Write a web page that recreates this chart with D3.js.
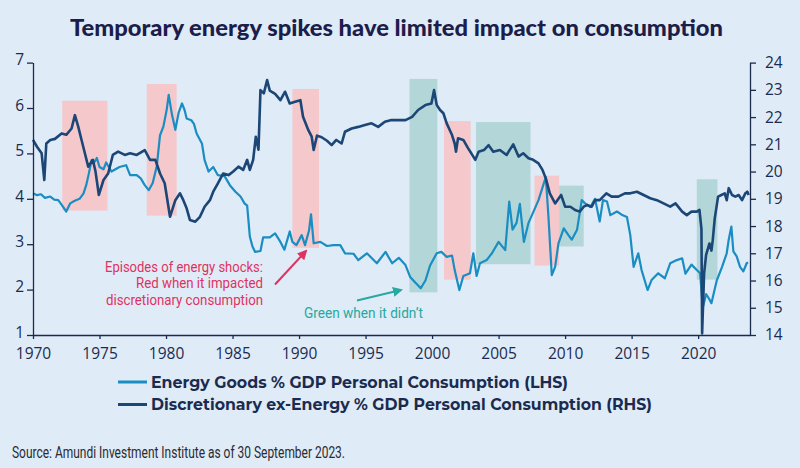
<!DOCTYPE html>
<html>
<head>
<meta charset="utf-8">
<script src="https://cdn.jsdelivr.net/npm/d3@7"></script>
<style>
html,body{margin:0;padding:0;background:#dfebf7;}
svg{display:block;}
</style>
</head>
<body>
<svg id="chart" width="800" height="468"></svg>
<script>
// ---------- DATA ----------
const energyYears = [1970.0,1970.3,1970.6,1970.9,1971.3,1971.6,1971.9,1972.2,1972.5,1972.8,1973.1,1973.5,1973.8,1974.0,1974.2,1974.4,1974.6,1974.8,1975.0,1975.3,1975.5,1975.9,1976.2,1976.5,1977.0,1977.3,1977.8,1978.1,1978.4,1978.7,1979.0,1979.3,1979.55,1979.8,1980.05,1980.2,1980.45,1980.7,1980.95,1981.2,1981.4,1981.55,1981.9,1982.1,1982.3,1982.7,1982.9,1983.2,1983.55,1983.9,1984.4,1984.8,1985.2,1985.6,1985.9,1986.1,1986.3,1986.5,1986.7,1987.1,1987.3,1987.8,1988.2,1988.6,1988.9,1989.3,1989.5,1989.8,1990.2,1990.45,1990.75,1990.9,1991.1,1991.6,1992.1,1992.6,1993.1,1993.45,1994.1,1994.45,1995.1,1995.85,1996.5,1997.0,1997.5,1998.0,1998.35,1998.7,1999.15,1999.5,1999.85,2000.35,2000.7,2001.1,2001.5,2001.7,2002.05,2002.35,2002.85,2003.1,2003.35,2003.6,2004.1,2004.5,2005.0,2005.5,2005.8,2006.05,2006.35,2006.6,2006.9,2007.25,2007.6,2008.0,2008.4,2008.55,2008.75,2009.0,2009.25,2009.5,2009.9,2010.25,2010.5,2010.9,2011.25,2011.5,2011.9,2012.25,2012.6,2012.85,2013.15,2013.4,2013.9,2014.25,2014.65,2014.9,2015.15,2015.5,2015.75,2016.2,2016.5,2017.0,2017.5,2017.9,2018.4,2018.8,2019.05,2019.5,2019.9,2020.15,2020.35,2020.6,2020.8,2021.0,2021.4,2021.8,2022.15,2022.3,2022.5,2022.65,2022.9,2023.15,2023.4,2023.65,2023.75];
const energyValues = [4.12,4.08,4.1,4.02,4.05,3.98,3.97,3.85,3.72,3.9,3.95,4.0,4.12,4.3,4.56,4.85,4.8,4.9,4.7,4.65,4.8,4.6,4.65,4.7,4.74,4.52,4.52,4.45,4.3,4.19,4.35,4.71,5.4,5.59,5.96,6.29,5.85,5.52,5.9,6.1,5.95,5.77,5.73,5.65,5.44,5.22,4.85,4.6,4.7,4.52,4.5,4.3,4.16,4.05,3.9,3.85,3.17,2.95,2.83,2.85,3.15,3.15,3.24,3.05,2.88,3.28,3.05,2.98,3.2,2.98,3.3,3.66,3.02,3.05,2.96,2.98,2.98,2.8,2.79,2.65,2.8,2.58,2.83,2.58,2.7,2.54,2.28,2.17,2.03,2.2,2.53,2.8,2.83,2.72,2.75,2.43,1.99,2.3,2.36,2.8,2.3,2.58,2.65,2.8,3.05,2.87,3.94,3.32,3.47,3.89,3.05,3.47,3.7,3.97,4.34,4.48,3.6,2.32,2.5,3.02,3.35,3.2,3.1,3.32,3.97,3.9,3.82,4.0,3.5,3.97,3.94,3.64,3.72,3.65,3.6,3.2,2.5,2.8,2.43,1.99,2.21,2.36,2.25,2.58,2.65,2.69,2.35,2.55,2.43,2.36,1.6,1.9,1.81,1.7,2.2,2.5,2.8,3.1,3.39,2.84,2.73,2.5,2.4,2.58,2.6];

const discYears = [1970.0,1970.3,1970.65,1970.85,1971.0,1971.3,1971.65,1972.15,1972.5,1972.9,1973.15,1973.4,1973.65,1973.9,1974.15,1974.5,1974.7,1974.95,1975.3,1975.65,1976.0,1976.4,1976.9,1977.3,1977.8,1978.4,1978.8,1979.2,1979.55,1979.9,1980.3,1980.7,1981.05,1981.3,1981.55,1981.8,1982.2,1982.55,1982.9,1983.3,1983.55,1983.9,1984.3,1984.7,1985.05,1985.45,1985.8,1986.1,1986.3,1986.55,1986.75,1986.95,1987.1,1987.35,1987.6,1987.8,1988.2,1988.6,1988.95,1989.3,1989.7,1990.1,1990.3,1990.7,1990.95,1991.1,1991.35,1991.7,1992.1,1992.45,1992.8,1993.2,1993.45,1993.95,1994.45,1994.95,1995.45,1995.95,1996.45,1996.95,1997.5,1998.0,1998.5,1998.95,1999.5,1999.95,2000.15,2000.35,2000.6,2000.85,2001.1,2001.5,2001.7,2001.8,2001.95,2002.35,2002.7,2002.95,2003.25,2003.5,2003.9,2004.25,2004.6,2005.1,2005.6,2006.1,2006.5,2006.85,2007.25,2007.6,2008.0,2008.3,2008.55,2008.85,2009.25,2009.7,2010.0,2010.4,2010.75,2011.1,2011.4,2011.65,2012.0,2012.25,2012.6,2013.1,2013.5,2014.0,2014.5,2014.9,2015.4,2015.9,2016.4,2016.9,2017.4,2017.9,2018.3,2018.8,2019.15,2019.5,2019.9,2020.1,2020.25,2020.3,2020.45,2020.6,2020.85,2021.0,2021.1,2021.25,2021.5,2021.75,2022.0,2022.15,2022.3,2022.55,2022.8,2023.05,2023.3,2023.55,2023.7,2023.8];
const discValues = [21.16,20.91,20.67,19.69,21.03,21.16,21.2,21.4,21.35,21.58,22.07,21.65,21.16,20.67,20.18,20.43,20.0,19.14,19.69,19.93,20.61,20.73,20.61,20.67,20.61,20.79,20.43,20.43,19.93,19.57,18.34,18.95,19.2,18.95,18.65,18.22,18.16,18.34,18.71,18.95,19.26,19.57,19.93,19.87,20.0,20.18,20.06,20.43,20.06,20.43,21.28,20.8,22.99,22.87,23.36,22.97,22.85,22.62,22.93,22.5,22.56,22.62,22.01,21.52,21.28,20.79,21.32,21.26,21.13,20.97,21.16,21.03,21.46,21.58,21.64,21.71,21.77,21.64,21.83,21.89,21.89,21.89,22.01,22.26,22.44,22.5,22.99,22.44,22.26,22.14,21.77,21.34,21.03,20.73,21.22,21.16,20.86,20.67,20.43,20.73,20.79,20.97,20.73,20.79,20.61,21.0,20.55,20.67,20.49,20.43,20.3,20.06,19.75,19.2,18.83,19.14,18.71,18.71,18.59,18.53,18.71,18.77,18.71,18.95,18.95,19.2,19.08,19.08,19.2,19.2,19.26,19.14,19.02,18.95,18.83,18.71,18.83,18.53,18.4,18.53,18.53,18.59,17.9,14.06,16.26,16.94,17.36,17.1,17.48,18.28,19.08,19.14,19.2,18.95,19.39,19.14,19.08,19.14,18.95,19.2,19.26,19.14];

// energy-shock episodes (years, and LHS-unit extent of the shaded box)
const shockStart  = [1972.2, 1978.55, 1989.5, 1998.3, 2000.9, 2003.3, 2007.7, 2009.55, 2019.9];
const shockEnd    = [1975.6, 1980.8, 1991.5, 2000.4, 2002.9, 2007.4, 2009.55, 2011.4, 2021.45];
const shockTop    = [6.16, 6.53, 6.42, 6.64, 5.71, 5.69, 4.51, 4.29, 4.43];
const shockBottom = [3.74, 3.63, 2.92, 1.94, 2.22, 2.56, 2.53, 2.95, 2.22];
const shockImpact = [true, true, true, false, true, false, true, false, false];

const xTicks = [1970,1975,1980,1985,1990,1995,2000,2005,2010,2015,2020];
const leftTicks = [1,2,3,4,5,6,7];
const rightTicks = [14,15,16,17,18,19,20,21,22,23,24];

const titleText = "Temporary energy spikes have limited impact on consumption";
const legendLabels = ["Energy Goods % GDP Personal Consumption (LHS)", "Discretionary ex-Energy % GDP Personal Consumption (RHS)"];
const redNote = ["Episodes of energy shocks:", "Red when it impacted", "discretionary consumption"];
const greenNote = "Green when it didn\u2019t";
const sourceText = "Source: Amundi Investment Institute as of 30 September 2023.";

// ---------- DRAW ----------
const NAVY = "#1b2b4f", LIGHT = "#1a8dc2", DARK = "#1c4675";
const RED_BOX = "#f5c8cc", GREEN_BOX = "#b3d7d8";
const RED_TXT = "#e03260", GREEN_TXT = "#27a8a0";

const svg = d3.select("#chart");
svg.append("rect").attr("width",800).attr("height",468).attr("fill","#dfebf7");

const x = d3.scaleLinear().domain([1970, 2023.9]).range([33, 750]);
const yL = d3.scaleLinear().domain([1, 7]).range([335, 62.6]);
const yR = d3.scaleLinear().domain([14, 24]).range([335, 62.6]);

// title
svg.append("text").attr("x",70).attr("y",36)
  .attr("font-family","Lato").attr("font-weight",900).attr("font-size",22)
  .attr("fill","#1c1d4a").attr("textLength",653).attr("lengthAdjust","spacingAndGlyphs")
  .text(titleText);

// shaded episodes
const shocks = shockStart.map((s,i)=>({s, e:shockEnd[i], t:shockTop[i], b:shockBottom[i], red:shockImpact[i]}));
svg.append("g").selectAll("rect").data(shocks).join("rect")
  .attr("x", d=>x(d.s)).attr("width", d=>x(d.e)-x(d.s))
  .attr("y", d=>yL(d.t)).attr("height", d=>yL(d.b)-yL(d.t))
  .attr("fill", d=>d.red?RED_BOX:GREEN_BOX);

// lines
const energy = energyYears.map((yr,i)=>[yr, energyValues[i]]);
const disc = discYears.map((yr,i)=>[yr, discValues[i]]);
svg.append("path").datum(energy)
  .attr("d", d3.line().x(d=>x(d[0])).y(d=>yL(d[1])))
  .attr("fill","none").attr("stroke",LIGHT).attr("stroke-width",2.2).attr("stroke-linejoin","round");
svg.append("path").datum(disc)
  .attr("d", d3.line().x(d=>x(d[0])).y(d=>yR(d[1])))
  .attr("fill","none").attr("stroke",DARK).attr("stroke-width",2.6).attr("stroke-linejoin","round");

// axes
function styleAxis(g){
  g.selectAll("path,line").attr("stroke",NAVY).attr("stroke-width",1.3);
  g.selectAll("text").attr("fill",NAVY).attr("font-family","Open Sans").attr("font-size",15.5);
}
svg.append("g").attr("transform","translate(0,335)")
  .call(d3.axisBottom(x).tickValues(xTicks).tickFormat(d3.format("d")).tickSize(4).tickPadding(9).tickSizeOuter(0))
  .call(styleAxis);
svg.append("g").attr("transform","translate(33,0)")
  .call(d3.axisLeft(yL).tickValues(leftTicks).tickFormat(d3.format("d")).tickSize(6).tickPadding(3).tickSizeOuter(0))
  .call(styleAxis)
  .call(g=>g.selectAll(".tick text").attr("dy","0.15em"));
svg.append("g").attr("transform","translate(750,0)")
  .call(d3.axisRight(yR).tickValues(rightTicks).tickFormat(d3.format("d")).tickSize(6).tickPadding(9).tickSizeOuter(0))
  .call(styleAxis);

// annotations
const defs = svg.append("defs");
function marker(id, color){
  defs.append("marker").attr("id",id).attr("viewBox","0 0 10 10").attr("refX",8).attr("refY",5)
    .attr("markerWidth",5).attr("markerHeight",5).attr("orient","auto")
    .append("path").attr("d","M0,0 L10,5 L0,10 z").attr("fill",color);
}
marker("arrRed", RED_TXT); marker("arrGreen", GREEN_TXT);

const redWidths = [158, 127, 157];
const redBase = [271.5, 288, 304.5];
redNote.forEach((t,i)=>{
  svg.append("text").attr("x",263-redWidths[i]).attr("y",redBase[i])
    .attr("font-family","Roboto").attr("font-size",14).attr("fill",RED_TXT)
    .attr("textLength",redWidths[i]).attr("lengthAdjust","spacingAndGlyphs").text(t);
});
svg.append("line").attr("x1",275).attr("y1",284.5).attr("x2",306).attr("y2",251)
  .attr("stroke",RED_TXT).attr("stroke-width",2).attr("marker-end","url(#arrRed)");

svg.append("text").attr("x",304).attr("y",318)
  .attr("font-family","Roboto").attr("font-size",15).attr("fill",GREEN_TXT)
  .attr("textLength",119).attr("lengthAdjust","spacingAndGlyphs").text(greenNote);
svg.append("line").attr("x1",357).attr("y1",300.5).attr("x2",401).attr("y2",290)
  .attr("stroke",GREEN_TXT).attr("stroke-width",2).attr("marker-end","url(#arrGreen)");

// legend
const legendColors = [LIGHT, DARK];
const legendY = [382, 404.5];
const legendW = [417, 501];
legendLabels.forEach((t,i)=>{
  svg.append("line").attr("x1",118).attr("x2",147).attr("y1",legendY[i]).attr("y2",legendY[i])
    .attr("stroke",legendColors[i]).attr("stroke-width",3);
  svg.append("text").attr("x",151).attr("y",legendY[i]+5.5)
    .attr("font-family","Montserrat, Lato, sans-serif").attr("font-weight",700).attr("font-size",15.5)
    .attr("fill",NAVY).attr("textLength",legendW[i]).attr("lengthAdjust","spacingAndGlyphs").text(t);
});

// source
svg.append("text").attr("x",12).attr("y",458)
  .attr("font-family","Roboto").attr("font-size",17).attr("fill","#2a2a30")
  .attr("textLength",333).attr("lengthAdjust","spacingAndGlyphs").text(sourceText);
</script>
</body>
</html>
